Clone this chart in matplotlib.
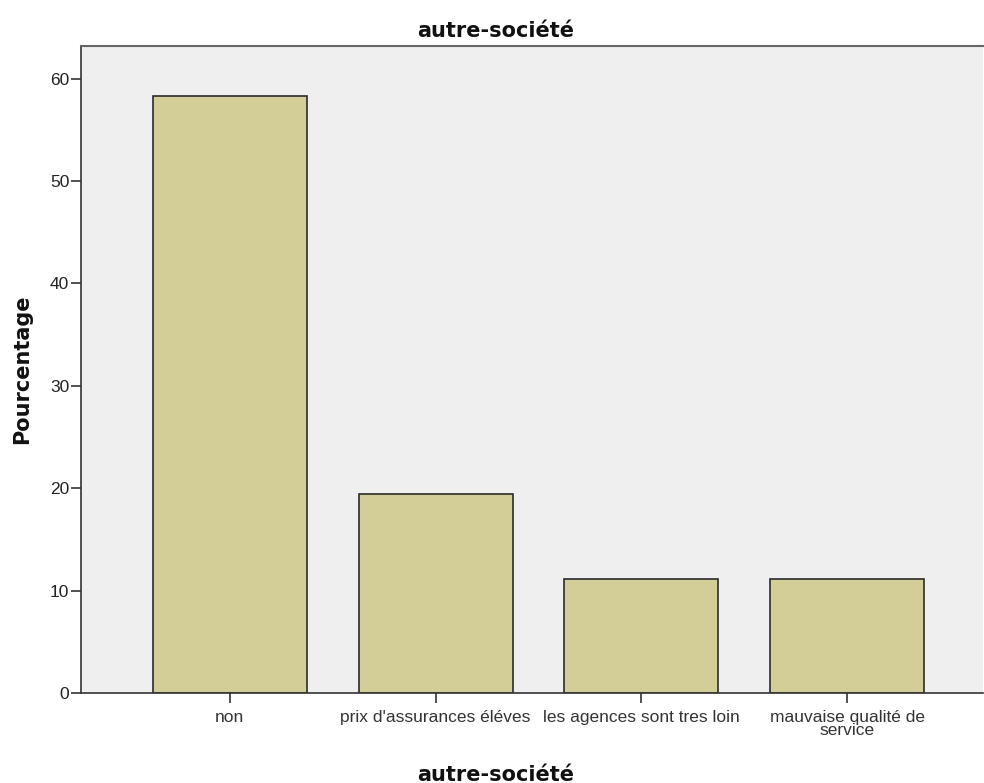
import matplotlib
matplotlib.use("Agg")
import matplotlib.pyplot as plt

categories = ["non", "prix d'assurances éléves", "les agences sont tres loin",
              "mauvaise qualité de\nservice"]
pourcentages = [58.3, 19.4, 11.1, 11.1]
y_ticks = [0, 10, 20, 30, 40, 50, 60]

plt.rcParams["font.family"] = ["Liberation Sans", "DejaVu Sans"]
bold_font = dict(family="DejaVu Sans", fontsize=15, fontweight="bold", color="#111111")

fig = plt.figure(figsize=(9.84, 7.83), dpi=100)
ax = fig.add_axes([0.0823, 0.115, 0.9167, 0.8263])
ax.set_facecolor("#efefef")

x = range(len(categories))
ax.bar(x, pourcentages, width=0.748, color="#d3ce97", edgecolor="#2b2b2b",
       linewidth=1.2, zorder=2)

ax.set_xlim(-0.723, 3.66)
ax.set_ylim(0, 63.2)
ax.set_yticks(y_ticks)
ax.set_xticks(list(x))
ax.set_xticklabels(categories, fontsize=12.5, linespacing=0.88, color="#222222")
ax.tick_params(axis="y", labelsize=12.5, length=7, width=1.2, colors="#333333",
               labelcolor="#222222", pad=1.5)
ax.tick_params(axis="x", length=7, width=1.2, colors="#333333", pad=5)

for side in ["left", "bottom"]:
    ax.spines[side].set_linewidth(1.2)
    ax.spines[side].set_color("#333333")
ax.spines["top"].set_linewidth(1.5)
ax.spines["top"].set_color("#666666")
ax.spines["right"].set_visible(False)

# titles sit on the figure centre, SPSS style
fig.text(0.504, 0.953, "autre-société", ha="center", va="baseline", **bold_font)
fig.text(0.504, 0.003, "autre-société", ha="center", va="baseline", **bold_font)
fig.text(0.022, 0.528, "Pourcentage", ha="center", va="center", rotation=90, **bold_font)

fig.savefig("out.png", dpi=100)
plt.close(fig)
